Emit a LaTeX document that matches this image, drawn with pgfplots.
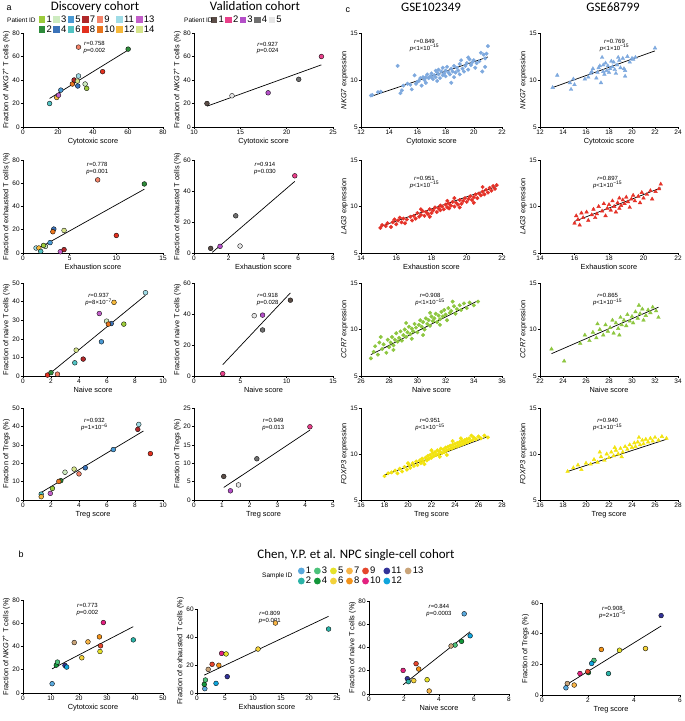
\documentclass[border=0pt]{standalone}
\usepackage{fontspec}
\setmainfont{Liberation Sans}
\newfontfamily\ttl{Carlito}
\usepackage{pgfplots}
\pgfplotsset{compat=1.18}

% discovery cohort patients
\definecolor{d1}{HTML}{9CCB3B}
\definecolor{d2}{HTML}{2E8B3A}
\definecolor{d3}{HTML}{CDEBC0}
\definecolor{d4}{HTML}{3B73B9}
\definecolor{d5}{HTML}{4A9AD4}
\definecolor{d6}{HTML}{52C3C3}
\definecolor{d7}{HTML}{B0282A}
\definecolor{d8}{HTML}{E2301F}
\definecolor{d9}{HTML}{F4846A}
\definecolor{d10}{HTML}{E9751D}
\definecolor{d11}{HTML}{9FDCE6}
\definecolor{d12}{HTML}{F6B93B}
\definecolor{d13}{HTML}{C35FC9}
\definecolor{d14}{HTML}{D5E48A}
% validation cohort patients
\definecolor{v1}{HTML}{5B4D47}
\definecolor{v2}{HTML}{E8408A}
\definecolor{v3}{HTML}{B44FC8}
\definecolor{v4}{HTML}{707070}
\definecolor{v5}{HTML}{E6E6E6}
% Chen et al. samples
\definecolor{s1}{HTML}{5AA9DD}
\definecolor{s2}{HTML}{2BB3A7}
\definecolor{s3}{HTML}{4CC27A}
\definecolor{s4}{HTML}{13963A}
\definecolor{s5}{HTML}{E5E22A}
\definecolor{s6}{HTML}{F3D23B}
\definecolor{s7}{HTML}{F8B547}
\definecolor{s8}{HTML}{F39319}
\definecolor{s9}{HTML}{E5462D}
\definecolor{s10}{HTML}{E3217F}
\definecolor{s11}{HTML}{333399}
\definecolor{s12}{HTML}{10A5DC}
\definecolor{s13}{HTML}{C9A479}
% bulk datasets
\definecolor{cblue}{HTML}{7EA9DE}
\definecolor{cred}{HTML}{E53228}
\definecolor{cgreen}{HTML}{8DC63F}
\definecolor{cyellow}{HTML}{F2E30F}

\tikzset{dot/.style={draw=black,fill=#1,line width=0.35pt},
  ann/.style={font=\fontsize{6}{7}\selectfont, align=center, inner sep=0pt}}

\pgfplotsset{
  pp/.style={scale only axis, anchor=south west, axis lines=left,
    axis line style={-,line width=0.7pt},
    tick align=outside, major tick length=2.2bp, tick style={black,line width=0.6pt},
    ticklabel style={font=\fontsize{6.5}{7}\selectfont, inner sep=1pt},
    /pgf/number format/assume math mode=true,
    label style={font=\fontsize{7.4}{8}\selectfont},
    xlabel style={yshift=1.5pt}, ylabel style={yshift=-2pt},
    clip=false},
  dots/.style={only marks, scatter, scatter src=explicit symbolic, mark=*,
    mark size=2.4bp, forget plot,
    scatter/classes={
      d1={dot=d1},d2={dot=d2},d3={dot=d3},d4={dot=d4},d5={dot=d5},d6={dot=d6},d7={dot=d7},
      d8={dot=d8},d9={dot=d9},d10={dot=d10},d11={dot=d11},d12={dot=d12},d13={dot=d13},d14={dot=d14},
      v1={dot=v1},v2={dot=v2},v3={dot=v3},v4={dot=v4},v5={dot=v5},
      s1={dot=s1},s2={dot=s2},s3={dot=s3},s4={dot=s4},s5={dot=s5},s6={dot=s6},s7={dot=s7},
      s8={dot=s8},s9={dot=s9},s10={dot=s10},s11={dot=s11},s12={dot=s12},s13={dot=s13}}},
  reg/.style={black, line width=0.7pt, mark=none, forget plot},
  cdot/.style={only marks, mark=*, mark size=1.8bp, forget plot},
  ctri/.style={only marks, mark=triangle*, mark size=2.1bp, forget plot},
  legbase/.style={legend cell align=left,
    legend style={draw=none, fill=none, inner sep=0pt, outer sep=0pt, anchor=north west,
      font=\fontsize{9.5}{9.5}\selectfont, column sep=0.8pt, row sep=1.2pt,
      nodes={inner sep=0.4pt}, /tikz/every even column/.append style={column sep=#1}}},
  sqleg/.style={legbase=1.2pt, legend image code/.code={\fill[##1,draw=none] (0bp,-3.2bp) rectangle (6.4bp,3.2bp);}},
  cileg/.style={legbase=2.4pt, legend image code/.code={\fill[##1,draw=none] (3.2bp,0bp) circle (3.4bp);}},
}

\begin{document}
\begin{tikzpicture}
\useasboundingbox (0,0) rectangle (685bp,-721bp);

% ---------------- panel a, Discovery cohort ----------------
\begin{axis}[pp, at={(23bp,-127bp)}, width=140bp, height=94bp,
  xmin=0,xmax=80,ymin=0,ymax=80, xtick={0,20,...,80}, ytick={0,20,...,80},
  xlabel={Cytotoxic score}, ylabel={Fraction of \textit{NKG7}\textsuperscript{+} T cells (\%)},
  sqleg, legend columns=7, legend style={at={(0.114,1.19)}}]
\addlegendimage{fill=d1}\addlegendentry{1}
\addlegendimage{fill=d3}\addlegendentry{3}
\addlegendimage{fill=d5}\addlegendentry{5}
\addlegendimage{fill=d7}\addlegendentry{7}
\addlegendimage{fill=d9}\addlegendentry{9}
\addlegendimage{fill=d11}\addlegendentry{11}
\addlegendimage{fill=d13}\addlegendentry{13}
\addlegendimage{fill=d2}\addlegendentry{2}
\addlegendimage{fill=d4}\addlegendentry{4}
\addlegendimage{fill=d6}\addlegendentry{6}
\addlegendimage{fill=d8}\addlegendentry{8}
\addlegendimage{fill=d10}\addlegendentry{10}
\addlegendimage{fill=d12}\addlegendentry{12}
\addlegendimage{fill=d14}\addlegendentry{14}
\addplot[reg] coordinates {(15.2,24.3) (60.1,65.5)};
\addplot[dots] coordinates {
 (15.2,20.0)[d6] (19.3,25.1)[d12] (20.3,27.1)[d13] (21.6,31.4)[d5] (28.2,36.6)[d10]
 (29.2,40.0)[d7] (31.7,43.4)[d11] (31.1,39.1)[d14] (31.3,34.9)[d4] (35.5,36.6)[d3]
 (36.4,32.9)[d1] (31.7,68.0)[d9] (45.5,47.1)[d8] (60.1,66.3)[d2]};
\node[ann] at (rel axis cs:0.51,0.85) {\textit{r}=0.758\\\textit{p}=0.002};
\end{axis}

\begin{axis}[pp, at={(23bp,-253bp)}, width=140bp, height=93bp,
  xmin=0,xmax=15,ymin=0,ymax=80, xtick={0,5,10,15}, ytick={0,20,...,80},
  xlabel={Exhaustion score}, ylabel={Fraction of exhausted T cells (\%)}]
\addplot[reg] coordinates {(1.4,2.9) (13.0,54.9)};
\addplot[dots] coordinates {
 (8.0,62.9)[d9] (13.0,59.4)[d2] (10.0,15.1)[d8] (3.3,20.6)[d4] (3.2,18.3)[d10]
 (4.4,19.4)[d14] (2.9,8.9)[d5] (1.4,4.3)[d11] (1.7,4.3)[d12] (1.9,1.4)[d6]
 (2.4,5.7)[d3] (4.0,1.1)[d13] (4.4,2.9)[d7] (2.2,6.5)[d1]};
\node[ann] at (rel axis cs:0.53,0.91) {\textit{r}=0.778\\\textit{p}=0.001};
\end{axis}

\begin{axis}[pp, at={(23bp,-376bp)}, width=140bp, height=93bp,
  xmin=0,xmax=10,ymin=0,ymax=50, xtick={0,2,...,10}, ytick={0,10,...,50},
  xlabel={Naive score}, ylabel={Fraction of naive T cells (\%)}]
\addplot[reg] coordinates {(1.75,0.3) (8.75,43.4)};
\addplot[dots] coordinates {
 (8.75,44.8)[d11] (6.5,39.6)[d12] (5.45,33.6)[d13] (5.97,29.5)[d3] (6.3,28.2)[d4]
 (6.1,27.9)[d10] (7.2,27.9)[d1] (5.6,18.4)[d5] (3.8,13.9)[d14] (4.3,9.1)[d7]
 (3.7,7.1)[d6] (1.75,0.5)[d8] (2.0,1.8)[d2] (2.46,1.0)[d9]};
\node[ann] at (rel axis cs:0.54,0.82) {\textit{r}=0.937\\\textit{p}=8×10\textsuperscript{−7}};
\end{axis}

\begin{axis}[pp, at={(23bp,-500bp)}, width=140bp, height=92bp,
  xmin=0,xmax=10,ymin=0,ymax=50, xtick={0,2,...,10}, ytick={0,10,...,50},
  xlabel={Treg score}, ylabel={Fraction of Tregs (\%)}]
\addplot[reg] coordinates {(1.28,4.0) (8.6,37.5)};
\addplot[dots] coordinates {
 (8.27,41.1)[d11] (8.2,38.4)[d7] (9.1,25.2)[d8] (6.45,27.4)[d5] (4.45,17.5)[d4]
 (3.65,16.8)[d14] (4.0,14.2)[d9] (3.0,15.1)[d3] (2.7,10.5)[d2] (2.56,10.1)[d10]
 (2.1,6.3)[d1] (1.95,3.6)[d13] (1.3,3.2)[d6] (1.3,1.8)[d12]};
\node[ann] at (rel axis cs:0.51,0.82) {\textit{r}=0.932\\\textit{p}=1×10\textsuperscript{−6}};
\end{axis}

% ---------------- panel a, Validation cohort ----------------
\begin{axis}[pp, at={(194bp,-127bp)}, width=139bp, height=94bp,
  xmin=10,xmax=25,ymin=0,ymax=80, xtick={10,15,20,25}, ytick={0,20,...,80},
  xlabel={Cytotoxic score}, ylabel={Fraction of \textit{NKG7}\textsuperscript{+} T cells (\%)},
  sqleg, legend columns=5, legend style={at={(0.122,1.186)}}]
\addlegendimage{fill=v1}\addlegendentry{1}
\addlegendimage{fill=v2}\addlegendentry{2}
\addlegendimage{fill=v3}\addlegendentry{3}
\addlegendimage{fill=v4}\addlegendentry{4}
\addlegendimage{fill=v5}\addlegendentry{5}
\addplot[reg] coordinates {(11.4,17.7) (23.75,52.9)};
\addplot[dots] coordinates {
 (11.4,20.0)[v1] (14.1,26.6)[v5] (18.0,29.1)[v3] (21.3,40.6)[v4] (23.75,60.0)[v2]};
\node[ann] at (rel axis cs:0.53,0.84) {\textit{r}=0.927\\\textit{p}=0.024};
\end{axis}

\begin{axis}[pp, at={(194bp,-253bp)}, width=139bp, height=93bp,
  xmin=0,xmax=8,ymin=0,ymax=60, xtick={0,2,...,8}, ytick={0,20,40,60},
  xlabel={Exhaustion score}, ylabel={Fraction of exhausted T cells (\%)}]
\addplot[reg] coordinates {(1.05,0.4) (5.8,46.2)};
\addplot[dots] coordinates {
 (5.8,49.8)[v2] (2.4,24.0)[v4] (2.65,4.5)[v5] (1.5,4.3)[v3] (0.96,3.0)[v1]};
\node[ann] at (rel axis cs:0.51,0.91) {\textit{r}=0.914\\\textit{p}=0.030};
\end{axis}

\begin{axis}[pp, at={(194bp,-376bp)}, width=139bp, height=93bp,
  xmin=0,xmax=15,ymin=0,ymax=60, xtick={0,5,10,15}, ytick={0,20,40,60},
  xlabel={Naive score}, ylabel={Fraction of naive T cells (\%)}]
\addplot[reg] coordinates {(3.1,7.3) (10.4,53.6)};
\addplot[dots] coordinates {
 (10.4,48.9)[v1] (6.5,38.9)[v5] (7.4,39.3)[v3] (7.4,29.7)[v4] (3.1,1.5)[v2]};
\node[ann] at (rel axis cs:0.53,0.82) {\textit{r}=0.918\\\textit{p}=0.028};
\end{axis}

\begin{axis}[pp, at={(194bp,-500bp)}, width=139bp, height=92bp,
  xmin=0,xmax=5,ymin=0,ymax=25, xtick={0,1,...,5}, ytick={0,5,...,25},
  xlabel={Treg score}, ylabel={Fraction of Tregs (\%)}]
\addplot[reg] coordinates {(1.07,3.4) (4.17,19.0)};
\addplot[dots] coordinates {
 (1.07,6.4)[v1] (1.31,2.5)[v3] (1.6,4.1)[v5] (2.26,11.2)[v4] (4.17,19.9)[v2]};
\node[ann] at (rel axis cs:0.57,0.82) {\textit{r}=0.949\\\textit{p}=0.013};
\end{axis}

% ---------------- panel c, GSE102349 ----------------
\begin{axis}[pp, at={(361bp,-127bp)}, width=141bp, height=94bp,
  xmin=12,xmax=22,ymin=5,ymax=15, xtick={12,14,...,22}, ytick={5,10,15},
  xlabel={Cytotoxic score}, ylabel={\textit{NKG7} expression}]
\addplot[reg] coordinates {(12.7,8.25) (21.0,12.45)};
\addplot[cdot, cblue] coordinates {
 (12.7,8.35) (12.8,8.4) (13.2,8.7) (13.4,8.75) (14.6,11.5) (14.8,8.6) (14.9,8.9) (15.0,9.4)
 (15.3,9.6) (15.5,9.5) (15.6,9.0) (15.8,10.5) (15.9,9.6) (16.0,9.8) (16.1,9.9) (16.2,10.2)
 (16.3,9.4) (16.4,10.3) (16.5,10.0) (16.6,10.3) (16.7,10.6) (16.8,10.2) (16.9,10.4) (17.0,10.3)
 (17.0,10.7) (17.1,10.1) (17.2,10.5) (17.3,11.0) (17.3,10.3) (17.4,10.8) (17.5,10.6) (17.5,11.1)
 (17.6,10.2) (17.7,10.9) (17.8,10.5) (17.8,11.3) (17.9,10.7) (18.0,11.0) (18.0,10.4) (18.1,11.4)
 (18.2,10.8) (18.3,10.6) (18.4,9.7) (18.4,11.2) (18.5,10.9) (18.6,11.5) (18.7,10.8) (18.8,11.3)
 (18.9,11.0) (19.0,10.6) (19.0,11.7) (19.1,12.1) (19.2,11.2) (19.3,10.9) (19.4,11.5) (19.5,11.8)
 (19.6,11.1) (19.7,12.2) (19.8,11.6) (19.9,11.9) (20.0,12.1) (20.1,11.3) (20.2,11.8) (20.4,12.0)
 (20.5,12.9) (20.6,10.9) (20.7,12.7) (20.8,11.4) (20.9,12.8) (21.0,13.6) (20.8,12.3) (18.6,10.3)
 (17.4,9.9) (16.6,9.7) (19.6,12.4)};
\node[ann] at (rel axis cs:0.45,0.87) {\textit{r}=0.849\\\textit{p}<1×10\textsuperscript{−15}};
\end{axis}

\begin{axis}[pp, at={(361bp,-253bp)}, width=141bp, height=93bp,
  xmin=14,xmax=22,ymin=5,ymax=15, xtick={14,16,...,22}, ytick={5,10,15},
  xlabel={Exhaustion score}, ylabel={\textit{LAG3} expression}]
\addplot[reg] coordinates {(15.1,7.85) (21.7,12.15)};
\addplot[cdot, cred] coordinates {
 (15.1,7.7) (15.2,8.0) (15.4,7.9) (15.5,8.2) (15.7,7.8) (15.8,8.3) (16.0,8.1) (16.1,8.5)
 (16.3,8.3) (16.4,8.7) (16.5,8.2) (16.6,8.6) (16.8,8.9) (16.9,8.5) (17.0,9.0) (17.1,8.7)
 (17.2,9.3) (17.3,8.9) (17.4,9.1) (17.5,9.5) (17.6,9.0) (17.7,9.4) (17.8,9.2) (17.9,9.7)
 (18.0,9.3) (18.1,9.6) (18.2,9.9) (18.3,9.4) (18.4,9.8) (18.5,10.1) (18.5,9.6) (18.6,10.0)
 (18.7,9.7) (18.8,10.2) (18.9,9.9) (19.0,10.3) (19.0,9.8) (19.1,10.1) (19.2,10.5) (19.3,10.0)
 (19.4,10.4) (19.5,10.2) (19.6,10.7) (19.7,10.3) (19.8,10.6) (19.9,10.9) (20.0,10.5) (20.1,10.8)
 (20.2,11.1) (20.3,10.7) (20.4,11.0) (20.5,11.3) (20.6,10.9) (20.7,11.4) (20.8,11.2) (20.9,11.6)
 (21.0,11.3) (21.1,11.8) (21.2,11.5) (21.3,12.0) (21.4,11.7) (21.5,12.2) (21.6,11.9) (21.7,12.3)
 (16.2,8.8) (17.9,8.9) (19.3,10.9) (20.4,10.4) (18.9,10.6) (17.4,9.7) (15.9,8.6) (20.9,12.1)
 (19.6,9.9)};
\node[ann] at (rel axis cs:0.45,0.76) {\textit{r}=0.951\\\textit{p}<1×10\textsuperscript{−15}};
\end{axis}

\begin{axis}[pp, at={(361bp,-376bp)}, width=141bp, height=93bp,
  xmin=26,xmax=36,ymin=5,ymax=15, xtick={26,28,...,36}, ytick={5,10,15},
  xlabel={Naive score}, ylabel={\textit{CCR7} expression}]
\addplot[reg] coordinates {(26.7,7.3) (34.3,13.1)};
\addplot[cdot, cgreen] coordinates {
 (26.7,6.9) (26.9,7.6) (27.0,8.2) (27.2,7.3) (27.3,8.6) (27.5,7.9) (27.6,8.4) (27.8,7.5)
 (27.9,8.9) (28.0,8.1) (28.1,8.6) (28.2,9.2) (28.3,8.3) (28.4,8.9) (28.5,9.6) (28.6,8.7)
 (28.7,9.1) (28.8,9.8) (28.9,8.8) (29.0,9.4) (29.1,10.0) (29.2,9.2) (29.3,9.7) (29.4,10.3)
 (29.5,9.5) (29.6,10.1) (29.7,9.8) (29.8,10.6) (29.9,10.2) (30.0,9.7) (30.1,10.5) (30.2,11.0)
 (30.3,10.3) (30.4,10.8) (30.5,10.0) (30.6,11.2) (30.7,10.6) (30.8,11.0) (30.9,10.4) (31.0,11.4)
 (31.1,10.9) (31.2,11.2) (31.3,11.7) (31.4,10.8) (31.5,11.5) (31.6,11.1) (31.7,11.9) (31.8,11.4)
 (31.9,12.1) (32.0,11.6) (32.1,11.0) (32.2,12.3) (32.3,11.8) (32.4,12.0) (32.6,12.5) (32.7,11.7)
 (32.8,12.2) (33.0,12.6) (33.1,12.1) (33.3,12.8) (33.5,12.3) (33.7,12.9) (34.0,12.6) (34.3,13.0)
 (28.3,7.8) (29.6,9.0) (30.9,11.8) (31.6,10.5) (29.2,10.7) (27.4,9.2) (30.4,9.4) (32.5,13.0)};
\node[ann] at (rel axis cs:0.49,0.82) {\textit{r}=0.908\\\textit{p}<1×10\textsuperscript{−15}};
\end{axis}

\begin{axis}[pp, at={(361bp,-500bp)}, width=141bp, height=92bp,
  xmin=16,xmax=28,ymin=5,ymax=15, xtick={16,18,...,28}, ytick={5,10,15},
  xlabel={Treg score}, ylabel={\textit{FOXP3} expression}]
\addplot[reg] coordinates {(18.0,7.7) (26.8,11.9)};
\addplot[cdot, cyellow] coordinates {
 (18.0,7.6) (18.3,7.9) (18.6,8.0) (18.9,8.2) (19.1,7.9) (19.3,8.4) (19.5,8.1) (19.7,8.6)
 (19.9,8.3) (20.1,8.8) (20.2,8.5) (20.4,9.0) (20.5,8.7) (20.7,9.2) (20.8,8.8) (21.0,9.3)
 (21.1,9.0) (21.2,9.5) (21.3,9.2) (21.5,9.6) (21.6,9.3) (21.7,9.8) (21.8,9.5) (21.9,9.9)
 (22.0,9.6) (22.1,10.1) (22.2,9.8) (22.3,10.2) (22.4,9.9) (22.5,10.4) (22.6,10.0) (22.7,10.3)
 (22.8,10.6) (22.9,10.1) (23.0,10.5) (23.1,10.2) (23.2,10.7) (23.3,10.4) (23.4,10.8) (23.5,10.5)
 (23.6,10.9) (23.7,10.6) (23.8,11.0) (23.9,10.7) (24.0,11.1) (24.1,10.8) (24.2,11.2) (24.3,10.9)
 (24.4,11.3) (24.5,11.0) (24.6,11.4) (24.7,11.1) (24.8,11.5) (24.9,11.2) (25.0,11.6) (25.1,11.3)
 (25.2,11.7) (25.3,11.4) (25.5,11.5) (25.6,11.8) (25.8,11.6) (26.0,11.9) (26.2,11.7) (26.5,12.0)
 (26.8,11.8) (22.0,10.4) (23.3,9.9) (24.5,11.7) (21.4,8.9) (20.0,9.0) (25.4,12.0) (23.8,11.4)
 (22.7,9.7)};
\node[ann] at (rel axis cs:0.49,0.82) {\textit{r}=0.951\\\textit{p}<1×10\textsuperscript{−15}};
\end{axis}

% ---------------- panel c, GSE68799 ----------------
\begin{axis}[pp, at={(540bp,-127bp)}, width=138bp, height=94bp,
  xmin=12,xmax=24,ymin=5,ymax=15, xtick={12,14,...,24}, ytick={5,10,15},
  xlabel={Cytotoxic score}, ylabel={\textit{NKG7} expression}]
\addplot[reg] coordinates {(13.1,9.2) (22.0,13.1)};
\addplot[ctri, cblue] coordinates {
 (13.1,9.2) (13.5,10.5) (14.6,9.7) (14.7,9.0) (14.9,10.1) (15.0,9.5) (15.9,10.1) (16.4,10.7)
 (16.5,10.9) (16.6,11.2) (16.9,10.2) (17.0,10.8) (17.1,11.3) (17.3,9.7) (17.4,12.4) (17.5,11.6)
 (17.5,10.9) (17.6,10.6) (17.7,11.8) (17.8,11.0) (17.9,11.5) (18.0,10.8) (18.1,11.2) (18.2,12.0)
 (18.3,11.4) (18.4,11.9) (18.5,11.1) (18.6,10.7) (18.7,11.6) (18.9,12.1) (19.0,11.3) (19.2,12.3)
 (19.3,11.2) (19.4,10.4) (19.4,11.0) (19.6,12.5) (19.8,11.9) (20.0,12.3) (20.1,12.2) (20.3,12.4)
 (22.0,13.4) (18.8,12.4) (17.2,11.5) (16.2,10.3)};
\node[ann] at (rel axis cs:0.54,0.87) {\textit{r}=0.769\\\textit{p}<1×10\textsuperscript{−15}};
\end{axis}

\begin{axis}[pp, at={(540bp,-253bp)}, width=138bp, height=93bp,
  xmin=14,xmax=22,ymin=5,ymax=15, xtick={14,16,...,22}, ytick={5,10,15},
  xlabel={Exhaustion score}, ylabel={\textit{LAG3} expression}]
\addplot[reg] coordinates {(16.0,8.4) (21.0,12.0)};
\addplot[ctri, cred] coordinates {
 (16.0,8.2) (16.1,9.0) (16.2,8.6) (16.3,8.0) (16.4,9.3) (16.5,8.8) (16.7,9.4) (16.8,8.5)
 (17.0,9.1) (17.1,9.7) (17.3,9.2) (17.4,10.0) (17.6,9.5) (17.7,10.3) (17.8,9.0) (17.9,9.8)
 (18.0,10.2) (18.1,9.6) (18.2,10.6) (18.3,10.0) (18.4,9.4) (18.5,10.4) (18.6,10.9) (18.7,10.1)
 (18.8,10.7) (18.9,10.3) (19.0,11.0) (19.1,10.5) (19.2,9.9) (19.3,10.8) (19.4,11.2) (19.5,10.6)
 (19.7,11.1) (19.8,10.4) (19.9,11.5) (20.0,10.9) (20.2,11.3) (20.4,11.7) (20.5,10.8) (20.7,11.6)
 (20.9,11.9) (21.0,12.4) (17.2,8.8) (18.6,9.8)};
\node[ann] at (rel axis cs:0.49,0.76) {\textit{r}=0.897\\\textit{p}<1×10\textsuperscript{−15}};
\end{axis}

\begin{axis}[pp, at={(540bp,-376bp)}, width=138bp, height=93bp,
  xmin=22,xmax=34,ymin=5,ymax=15, xtick={22,24,...,34}, ytick={5,10,15},
  xlabel={Naive score}, ylabel={\textit{CCR7} expression}]
\addplot[reg] coordinates {(23.0,7.4) (32.3,12.4)};
\addplot[ctri, cgreen] coordinates {
 (23.0,7.9) (24.1,6.6) (25.5,8.5) (25.9,9.4) (26.3,8.8) (26.6,9.7) (26.9,9.1) (27.2,10.0)
 (27.5,9.4) (27.7,10.5) (27.9,9.8) (28.1,10.2) (28.3,11.0) (28.4,9.6) (28.6,10.7) (28.8,10.1)
 (29.0,11.3) (29.1,10.5) (29.3,11.0) (29.5,10.4) (29.6,11.6) (29.8,10.9) (30.0,11.4) (30.1,10.7)
 (30.3,11.9) (30.5,11.2) (30.7,11.7) (30.9,12.2) (31.0,11.0) (31.2,11.5) (31.4,12.1) (31.6,11.8)
 (31.8,12.4) (32.1,12.0) (32.3,11.3) (27.0,10.6) (28.9,9.4) (30.6,12.6)};
\node[ann] at (rel axis cs:0.49,0.82) {\textit{r}=0.865\\\textit{p}<1×10\textsuperscript{−15}};
\end{axis}

\begin{axis}[pp, at={(540bp,-500bp)}, width=138bp, height=92bp,
  xmin=16,xmax=28,ymin=5,ymax=15, xtick={16,18,...,28}, ytick={5,10,15},
  xlabel={Treg score}, ylabel={\textit{FOXP3} expression}]
\addplot[reg] coordinates {(18.4,8.1) (27.0,11.6)};
\addplot[ctri, cyellow] coordinates {
 (18.4,8.1) (18.9,8.5) (19.3,8.8) (19.6,8.3) (20.0,9.0) (20.4,8.9) (20.7,9.4) (21.0,9.1)
 (21.3,9.7) (21.6,9.3) (21.8,10.0) (22.0,9.6) (22.2,10.2) (22.4,9.8) (22.6,10.4) (22.8,10.0)
 (23.0,10.6) (23.2,10.2) (23.4,10.8) (23.6,10.5) (23.8,11.0) (24.0,10.7) (24.2,11.2) (24.3,10.8)
 (24.5,11.3) (24.7,11.0) (24.9,11.5) (25.0,11.1) (25.2,11.6) (25.4,11.3) (25.6,11.7) (25.8,11.4)
 (26.0,11.8) (26.3,11.5) (26.6,11.9) (27.0,11.7) (21.2,10.2) (23.1,9.7) (24.6,11.8) (22.5,10.7)};
\node[ann] at (rel axis cs:0.49,0.82) {\textit{r}=0.940\\\textit{p}<1×10\textsuperscript{−15}};
\end{axis}

% ---------------- panel b, Chen et al. ----------------
\begin{axis}[pp, at={(23bp,-693bp)}, width=140bp, height=93bp,
  xmin=0,xmax=50,ymin=0,ymax=80, xtick={0,10,...,50}, ytick={0,20,...,80},
  xlabel={Cytotoxic score}, ylabel={Fraction of \textit{NKG7}\textsuperscript{+} T cells (\%)}]
\addplot[reg] coordinates {(10.4,20.8) (39.4,57.1)};
\addplot[dots] coordinates {
 (10.4,8.0)[s1] (11.9,24.0)[s4] (12.3,26.6)[s3] (15.0,23.7)[s11] (15.6,22.3)[s12]
 (18.3,43.4)[s13] (21.0,30.3)[s6] (23.2,44.0)[s7] (27.3,48.3)[s8] (27.7,40.6)[s9]
 (27.5,35.7)[s5] (28.7,60.6)[s10] (39.4,45.7)[s2]};
\node[ann] at (rel axis cs:0.46,0.9) {\textit{r}=0.773\\\textit{p}=0.002};
\end{axis}

\begin{axis}[pp, at={(197bp,-693bp)}, width=140bp, height=84bp,
  xmin=0,xmax=25,ymin=0,ymax=60, xtick={0,5,...,25}, ytick={0,20,40,60},
  xlabel={Exhaustion score}, ylabel={Fraction of exhausted T cells (\%)},
  cileg, legend columns=7, legend style={at={(0.721,1.506)}}]
\addlegendimage{fill=s1}\addlegendentry{1}
\addlegendimage{fill=s3}\addlegendentry{3}
\addlegendimage{fill=s5}\addlegendentry{5}
\addlegendimage{fill=s7}\addlegendentry{7}
\addlegendimage{fill=s9}\addlegendentry{9}
\addlegendimage{fill=s11}\addlegendentry{11}
\addlegendimage{fill=s13}\addlegendentry{13}
\addlegendimage{fill=s2}\addlegendentry{2}
\addlegendimage{fill=s4}\addlegendentry{4}
\addlegendimage{fill=s6}\addlegendentry{6}
\addlegendimage{fill=s8}\addlegendentry{8}
\addlegendimage{fill=s10}\addlegendentry{10}
\addlegendimage{fill=s12}\addlegendentry{12}
\addplot[reg] coordinates {(1.3,12.8) (23.5,54.8)};
\addplot[dots] coordinates {
 (1.4,3.1)[s1] (1.3,6.2)[s4] (1.5,9.3)[s3] (3.4,6.9)[s12] (2.0,16.9)[s13]
 (2.7,20.5)[s9] (3.9,19.8)[s8] (4.4,28.3)[s10] (5.2,27.9)[s5] (5.4,11.7)[s11]
 (10.9,31.4)[s6] (14.0,50.0)[s7] (23.5,45.7)[s2]};
\node[ann] at (rel axis cs:0.52,0.9) {\textit{r}=0.809\\\textit{p}=0.001};
\end{axis}

\begin{axis}[pp, at={(369bp,-694bp)}, width=140bp, height=93bp,
  xmin=0,xmax=8,ymin=0,ymax=80, xtick={0,2,...,8}, ytick={0,20,...,80},
  xlabel={Naive score}, ylabel={Fraction of naive T cells (\%)}]
\addplot[reg] coordinates {(1.95,8.0) (5.78,53.6)};
\addplot[dots] coordinates {
 (5.44,69.0)[s1] (5.78,50.1)[s12] (5.29,45.3)[s4] (4.92,42.1)[s3] (4.69,41.3)[s13]
 (2.69,26.1)[s9] (2.84,21.5)[s8] (1.95,20.3)[s10] (2.19,13.2)[s11] (2.25,10.6)[s2]
 (2.56,11.5)[s6] (3.32,12.3)[s5] (3.44,2.6)[s7]};
\node[ann] at (rel axis cs:0.5,0.9) {\textit{r}=0.844\\\textit{p}=0.0003};
\end{axis}

\begin{axis}[pp, at={(542bp,-695bp)}, width=138bp, height=92bp,
  xmin=0,xmax=6,ymin=0,ymax=60, xtick={0,2,4,6}, ytick={0,20,40,60},
  xlabel={Treg score}, ylabel={Fraction of Tregs (\%)}]
\addplot[reg] coordinates {(1.04,6.5) (5.18,45.0)};
\addplot[dots] coordinates {
 (5.18,51.8)[s11] (4.5,30.3)[s6] (3.37,29.2)[s5] (2.58,29.7)[s8] (2.89,14.0)[s2]
 (2.26,22.6)[s3] (2.16,20.6)[s12] (2.02,14.6)[s4] (1.99,15.3)[s9] (1.65,14.0)[s10]
 (1.1,7.5)[s13] (1.04,4.7)[s1] (1.4,6.5)[s7]};
\node[ann] at (rel axis cs:0.51,0.9) {\textit{r}=0.908\\\textit{p}=2×10\textsuperscript{−5}};
\end{axis}

% ---------------- titles and labels ----------------
\node[anchor=base west, font=\fontsize{9}{10}\selectfont] at (3bp,-10bp) {a};
\node[anchor=base west, font=\fontsize{9}{10}\selectfont] at (342bp,-12bp) {c};
\node[anchor=base west, font=\fontsize{9}{10}\selectfont] at (15bp,-557bp) {b};
\node[anchor=base, font=\ttl\fontsize{13}{14}\selectfont] at (95bp,-10bp) {Discovery cohort};
\node[anchor=base, font=\ttl\fontsize{13}{14}\selectfont] at (255bp,-10bp) {Validation cohort};
\node[anchor=base, font=\ttl\fontsize{13}{14}\selectfont] at (431bp,-11.5bp) {GSE102349};
\node[anchor=base, font=\ttl\fontsize{13}{14}\selectfont] at (613bp,-11.5bp) {GSE68799};
\node[anchor=base, font=\ttl\fontsize{13}{14}\selectfont] at (356bp,-558bp) {Chen, Y.P. et al. NPC single-cell cohort};
\node[anchor=west, font=\fontsize{6.5}{7}\selectfont, inner sep=0pt] at (7bp,-20bp) {Patient ID};
\node[anchor=west, font=\fontsize{6.5}{7}\selectfont, inner sep=0pt] at (184bp,-20bp) {Patient ID};
\node[anchor=west, font=\fontsize{6.5}{7}\selectfont, inner sep=0pt] at (262bp,-576bp) {Sample ID};
\end{tikzpicture}
\end{document}
